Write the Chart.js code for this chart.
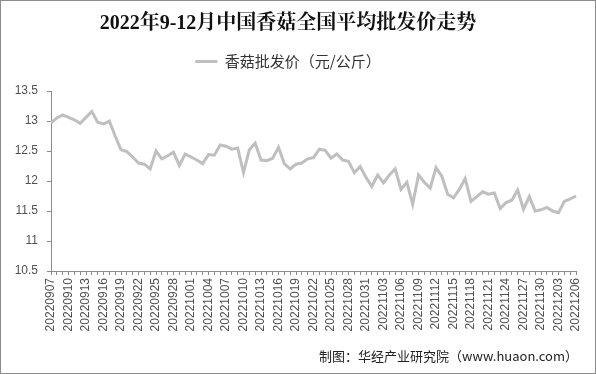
<!DOCTYPE html>
<html>
<head>
<meta charset="utf-8">
<script src="https://cdn.jsdelivr.net/npm/chart.js@4.4.1/dist/chart.umd.min.js"></script>
<style>
  html, body { margin: 0; padding: 0; background: #fff; }
  #wrap { position: relative; width: 596px; height: 374px; box-sizing: border-box; border: 1px solid #8c8c8c; }
  #priceChart { position: absolute; left: -1px; top: -1px; }
  #source { position: absolute; right: 17px; top: 345px; font: 13px "Noto Sans CJK SC", sans-serif; color: #222; }
</style>
</head>
<body>
<div id="wrap">
  <canvas id="priceChart" width="596" height="374"></canvas>
  <div id="source">制图：华经产业研究院（www.huaon.com）</div>
</div>
<script>
/* ── Data ────────────────────────────────────────────────────── */
const dates = [
  '20220907','20220908','20220909','20220910','20220911','20220912','20220913','20220914','20220915','20220916',
  '20220917','20220918','20220919','20220920','20220921','20220922','20220923','20220924','20220925','20220926',
  '20220927','20220928','20220929','20220930','20221001','20221002','20221003','20221004','20221005','20221006',
  '20221007','20221008','20221009','20221010','20221011','20221012','20221013','20221014','20221015','20221016',
  '20221017','20221018','20221019','20221020','20221021','20221022','20221023','20221024','20221025','20221026',
  '20221027','20221028','20221029','20221030','20221031','20221101','20221102','20221103','20221104','20221105',
  '20221106','20221107','20221108','20221109','20221110','20221111','20221112','20221113','20221114','20221115',
  '20221116','20221117','20221118','20221119','20221120','20221121','20221122','20221123','20221124','20221125',
  '20221126','20221127','20221128','20221129','20221130','20221201','20221202','20221203','20221204','20221205',
  '20221206'
];

const prices = [
  12.97, 13.05, 13.10, 13.06, 13.02, 12.96, 13.06, 13.16, 12.98, 12.95,
  13.00, 12.75, 12.52, 12.49, 12.40, 12.30, 12.28, 12.20, 12.50, 12.37,
  12.42, 12.48, 12.26, 12.45, 12.40, 12.35, 12.29, 12.44, 12.43, 12.60,
  12.58, 12.53, 12.55, 12.14, 12.52, 12.63, 12.35, 12.34, 12.38, 12.56,
  12.29, 12.20, 12.28, 12.30, 12.37, 12.39, 12.53, 12.51, 12.38, 12.45,
  12.35, 12.33, 12.14, 12.24, 12.06, 11.91, 12.10, 11.97, 12.10, 12.20,
  11.86, 11.98, 11.61, 12.10, 11.98, 11.88, 12.22, 12.08, 11.78, 11.72,
  11.86, 12.04, 11.66, 11.74, 11.82, 11.78, 11.80, 11.54, 11.64, 11.68,
  11.85, 11.53, 11.74, 11.50, 11.52, 11.56, 11.50, 11.47, 11.66, 11.70,
  11.75
];

const yTicks = [10.5, 11, 11.5, 12, 12.5, 13, 13.5];
const labelEvery = 3;

/* ── Chart ───────────────────────────────────────────────────── */
Chart.defaults.font.family = '"Liberation Sans", "Noto Sans CJK SC", sans-serif';
Chart.defaults.color = '#505050';

const axisColor = '#8c8c8c';

// extra space between legend and plot area
const legendGap = {
  id: 'legendGap',
  afterInit(chart) {
    const fit = chart.legend.fit;
    chart.legend.fit = function () {
      fit.call(this);
      this.height += 12;
    };
  },
};

new Chart(document.getElementById('priceChart').getContext('2d'), {
  type: 'line',
  data: {
    labels: dates,
    datasets: [{
      label: '香菇批发价（元/公斤）',
      data: prices,
      borderColor: '#bfbfbf',
      backgroundColor: '#bfbfbf',
      borderWidth: 3,
      pointRadius: 0,
      tension: 0,
    }],
  },
  plugins: [legendGap],
  options: {
    responsive: false,
    animation: false,
    layout: { padding: { left: 0, right: 20, top: 0, bottom: 0 } },
    plugins: {
      title: {
        display: true,
        text: '2022年9-12月中国香菇全国平均批发价走势',
        color: '#111',
        font: { family: '"Liberation Serif", "Noto Serif CJK SC", "Noto Sans CJK SC", serif', size: 20, weight: 'bold' },
        padding: { top: 12, bottom: 10 },
      },
      legend: {
        position: 'top',
        labels: {
          usePointStyle: true,
          pointStyle: 'line',
          pointStyleWidth: 22,
          color: '#333',
          font: { family: '"Noto Sans CJK SC", sans-serif', size: 15 },
          padding: 8,
        },
      },
      tooltip: { enabled: false },
    },
    scales: {
      x: {
        offset: false,
        border: { color: axisColor, width: 1 },
        grid: { drawOnChartArea: false, drawTicks: true, tickLength: 4, color: axisColor },
        ticks: {
          autoSkip: false,
          maxRotation: 90,
          minRotation: 90,
          padding: 3,
          font: { size: 12 },
          callback: (v, i) => (i % labelEvery === 0 ? dates[i] : ''),
        },
        afterFit: s => { s.height = 103; },
      },
      y: {
        min: 10.5,
        max: 13.5,
        border: { color: axisColor, width: 1 },
        grid: { drawOnChartArea: false, drawTicks: true, tickLength: 4, color: axisColor },
        afterBuildTicks: s => { s.ticks = yTicks.map(v => ({ value: v })); },
        ticks: { padding: 9, font: { size: 12 }, callback: v => String(v) },
        afterFit: s => { s.width = 51; },
      },
    },
  },
});
</script>
</body>
</html>
